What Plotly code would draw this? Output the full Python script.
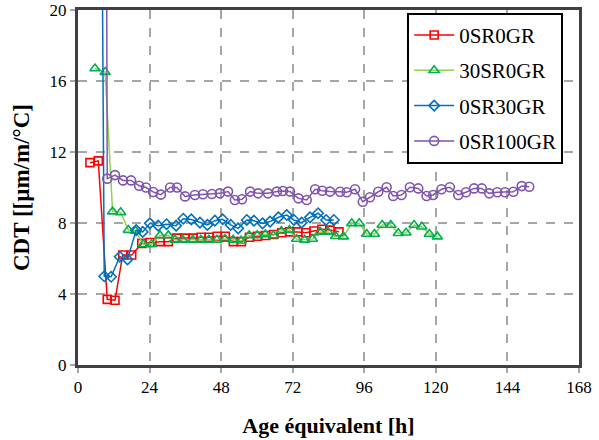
import plotly.graph_objects as go

# 0SR0GR
x_0sr0gr = [4.0, 6.8, 9.8, 12.4, 15.0, 18.0, 21.4, 24.1, 27.5, 30.3, 33.1, 35.9,
            38.6, 41.3, 44.0, 46.7, 49.4, 52.1, 54.8, 57.5, 60.2, 62.9, 65.6, 68.3,
            71.0, 73.7, 76.4, 79.1, 81.8, 84.5, 87.5]
y_0sr0gr = [11.4, 11.5, 3.7, 3.65, 6.2, 6.2, 6.85, 6.9, 6.95, 6.95, 7.15, 7.15,
            7.15, 7.2, 7.2, 7.25, 7.25, 6.95, 6.95, 7.2, 7.25, 7.3, 7.35, 7.45,
            7.5, 7.5, 7.45, 7.55, 7.65, 7.6, 7.5]

# 30SR0GR
x_30sr0gr = [5.7, 9.1, 11.6, 14.3, 16.9, 19.3, 21.9, 24.7, 27.5, 30.3, 32.5, 35.1,
             38.5, 41.2, 43.9, 46.6, 49.3, 52.0, 54.7, 57.4, 60.1, 62.8, 65.5, 68.2,
             70.9, 73.3, 76.0, 78.6, 81.2, 83.8, 86.4, 89.0, 91.8, 94.3, 96.8, 99.4,
             102.0, 104.9, 107.4, 110.0, 112.7, 115.3, 117.8, 120.5]
y_30sr0gr = [16.7, 16.5, 8.64, 8.6, 7.6, 7.55, 6.8, 6.8, 7.3, 7.3, 7.05, 7.05,
             7.05, 7.05, 7.05, 7.05, 7.1, 7.05, 7.0, 7.3, 7.3, 7.35, 7.3, 7.55,
             7.6, 7.1, 7.05, 7.1, 7.5, 7.5, 7.25, 7.23, 7.98, 7.98, 7.38, 7.38,
             7.89, 7.89, 7.42, 7.45, 7.89, 7.79, 7.38, 7.23]

# 0SR30GR
x_0sr30gr = [7.5, 8.8, 11.1, 14.0, 16.6, 19.5, 21.7, 24.1, 26.9, 29.7, 32.9, 35.3,
             38.0, 40.9, 43.4, 45.9, 48.5, 51.2, 53.7, 56.6, 59.0, 61.9, 64.4, 67.2,
             70.0, 72.4, 75.0, 77.8, 80.5, 83.2, 85.8]
y_0sr30gr = [40.0, 5.0, 4.97, 6.1, 5.95, 7.6, 7.5, 7.98, 7.85, 7.93, 7.85, 8.24,
             8.2, 8.02, 7.89, 8.13, 8.21, 7.89, 7.7, 8.17, 8.13, 7.98, 8.08, 8.32,
             8.45, 8.17, 8.02, 8.32, 8.55, 8.17, 8.17]

# 0SR100GR
x_0sr100gr = [9.3, 9.8, 12.4, 15.1, 17.8, 20.5, 22.8, 25.2, 27.8, 30.9, 33.2, 35.9,
              39.2, 41.9, 44.9, 47.6, 50.3, 52.6, 55.0, 57.7, 60.4, 63.7, 66.7, 68.7,
              71.1, 73.9, 76.7, 79.5, 81.9, 84.5, 87.9, 90.1, 92.9, 95.5, 97.9, 100.7,
              103.5, 105.7, 108.5, 111.3, 114.1, 116.9, 119.1, 121.9, 124.7, 127.5,
              130.1, 132.8, 135.4, 137.9, 140.6, 143.2, 146.0, 148.8, 151.3]
y_0sr100gr = [40.0, 10.5, 10.7, 10.4, 10.4, 10.1, 10.0, 9.75, 9.6, 10.0, 10.0, 9.5,
              9.58, 9.62, 9.63, 9.67, 9.77, 9.3, 9.34, 9.77, 9.67, 9.67, 9.77, 9.8,
              9.77, 9.39, 9.3, 9.9, 9.82, 9.77, 9.76, 9.73, 9.9, 9.2, 9.45, 9.76,
              10.01, 9.52, 9.58, 10.01, 9.95, 9.52, 9.58, 9.9, 10.01, 9.58,
              9.73, 9.95, 9.95, 9.67, 9.73, 9.73, 9.76, 10.08, 10.04]

x_ticks = [0, 24, 48, 72, 96, 120, 144, 168]
y_ticks = [0, 4, 8, 12, 16, 20]

FONT = "Liberation Serif"

series = [
    ("0SR0GR", x_0sr0gr, y_0sr0gr, "#FF0000", "#FF0000", "square-open", 8),
    ("30SR0GR", x_30sr0gr, y_30sr0gr, "#92D050", "#00B050", "triangle-up-open", 9),
    ("0SR30GR", x_0sr30gr, y_0sr30gr, "#0070C0", "#0070C0", "diamond-open", 8),
    ("0SR100GR", x_0sr100gr, y_0sr100gr, "#7F55B0", "#7F55B0", "circle-open", 9),
]

fig = go.Figure()
for name, xs, ys, lc, mc, sym, sz in series:
    fig.add_trace(go.Scatter(
        x=xs, y=ys, name=name, mode="lines+markers", legendgroup=name,
        line=dict(color=lc, width=1.5),
        marker=dict(symbol=sym, size=sz, color=mc, line=dict(color=mc, width=1.6)),
    ))

fig.update_layout(
    width=599, height=440,
    margin=dict(l=78, r=20, t=10, b=75, autoexpand=False),
    paper_bgcolor="white", plot_bgcolor="white",
    font=dict(family=FONT, size=16, color="black"),
    showlegend=True,
    legend=dict(
        x=0.657, y=0.992, xanchor="left", yanchor="top",
        bgcolor="white", bordercolor="black", borderwidth=2,
        font=dict(family=FONT, size=21, color="black"),
        traceorder="grouped", tracegroupgap=5, itemwidth=40,
    ),
)
fig.update_xaxes(
    range=[0, 168], tickvals=x_ticks, ticktext=[str(v) for v in x_ticks],
    showgrid=True, gridcolor="#A6A6A6", griddash="dash", gridwidth=1.5,
    showline=True, mirror=True, linecolor="#404040", linewidth=3,
    ticks="outside", ticklen=5, tickcolor="#A6A6A6", tickwidth=1.5,
    zeroline=False, automargin=False, ticklabeloverflow="allow",
    title=dict(text="<b>Age équivalent [h]</b>", font=dict(family=FONT, size=22), standoff=22),
    tickfont=dict(family=FONT, size=17),
)
fig.update_yaxes(
    range=[0, 20], tickvals=y_ticks, ticktext=[str(v) for v in y_ticks],
    showgrid=True, gridcolor="#A6A6A6", griddash="dash", gridwidth=1.5,
    showline=True, mirror=True, linecolor="#404040", linewidth=3,
    ticks="outside", ticklen=5, tickcolor="#A6A6A6", tickwidth=1.5,
    zeroline=False, automargin=False, ticklabeloverflow="allow",
    title=dict(text="<b>CDT [[µm/m/°C]</b>", font=dict(family=FONT, size=23), standoff=14),
    tickfont=dict(family=FONT, size=17),
)

fig.write_html("out.html", config={"displayModeBar": False},
               post_script="document.body.style.margin='0';")
